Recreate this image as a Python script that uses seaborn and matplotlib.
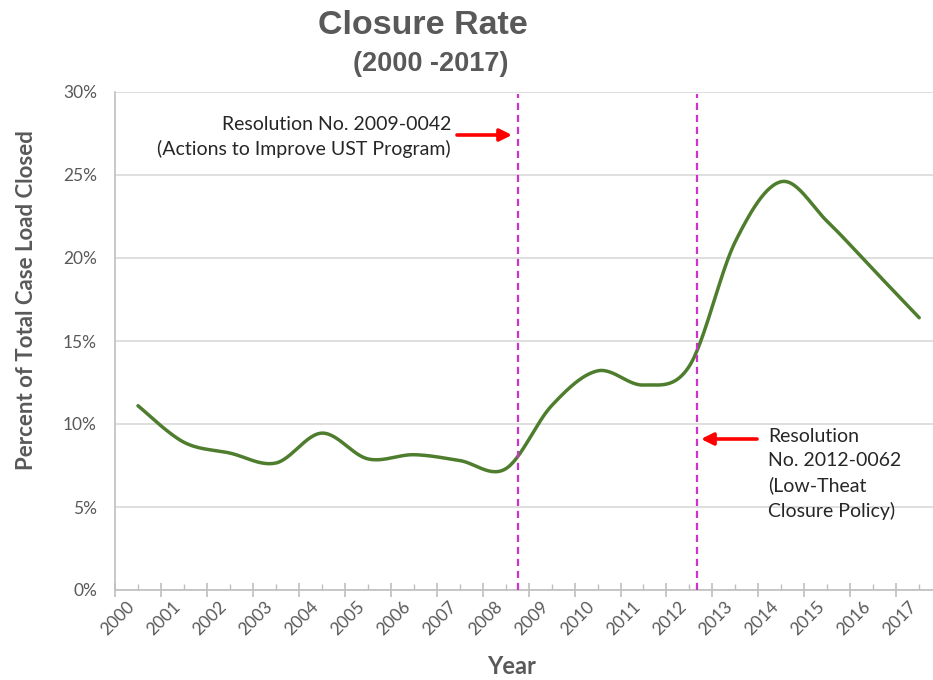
import numpy as np
import pandas as pd
import matplotlib
matplotlib.use("Agg")
import matplotlib.pyplot as plt
import matplotlib.transforms as mtransforms
from matplotlib.ticker import FixedLocator
import seaborn as sns

# Closure rate per year, percent of total case load closed
years = [str(y) for y in range(2000, 2018)]
closure_pct = [11.1, 8.9, 8.25, 7.65, 9.45, 7.9, 8.15, 7.8, 7.3,
               11.1, 13.2, 12.35, 13.5, 21.0, 24.6, 22.2, 19.3, 16.4]
y_ticks = [0, 5, 10, 15, 20, 25, 30]
y_tick_labels = ["0%", "5%", "10%", "15%", "20%", "25%", "30%"]

# Policy milestones (position on the category axis) and their notes
resolution_pos = [8.28, 12.17]
note_2009 = "Resolution No. 2009-0042\n(Actions to Improve UST Program)"
note_2012 = "Resolution\nNo. 2012-0062\n(Low-Theat\nClosure Policy)"

GREY = "#595959"
GREEN = "#4F7D2E"
MAGENTA = "#CC33CC"
FONT = ["Lato", "DejaVu Sans"]


def smooth_path(xs, ys, n=30):
    """Catmull-Rom style Bezier smoothing through every data point."""
    pts = np.column_stack([xs, ys]).astype(float)
    ext = np.vstack([pts[0], pts, pts[-1]])
    out = []
    t = np.linspace(0, 1, n)[:, None]
    for i in range(len(pts) - 1):
        p0, p3 = ext[i + 1], ext[i + 2]
        c1 = p0 + (ext[i + 2] - ext[i]) / 6.0
        c2 = p3 - (ext[i + 3] - ext[i + 1]) / 6.0
        seg = ((1 - t) ** 3) * p0 + 3 * ((1 - t) ** 2) * t * c1 \
            + 3 * (1 - t) * t ** 2 * c2 + t ** 3 * p3
        out.append(seg if i == 0 else seg[1:])
    seg = np.vstack(out)
    return seg[:, 0], seg[:, 1]


sns.set_theme(style="white")
plt.rcParams["font.family"] = FONT

fig = plt.figure(figsize=(9.33, 6.8), dpi=100)
W, H = 933, 680
ax = fig.add_axes([115 / W, 1 - 590 / H, (933 - 115) / W, (590 - 92) / H])

x_idx = np.arange(len(years))
sx, sy = smooth_path(x_idx, closure_pct)
curve = pd.DataFrame({"x": sx, "y": sy})
sns.lineplot(data=curve, x="x", y="y", ax=ax, color=GREEN, linewidth=2.5,
             sort=False, estimator=None)

ax.set_xlim(-0.5, 17.3)
ax.set_ylim(0, 30)

# horizontal gridlines
ax.set_yticks(y_ticks)
ax.set_yticklabels(y_tick_labels, color=GREY, fontsize=12.5)
ax.yaxis.grid(True, color="#D9D9D9", linewidth=1.2)
ax.set_axisbelow(True)
ax.tick_params(axis="y", length=0, pad=13)

# category axis: labels at centres, cross ticks at the boundaries
ax.set_xticks(x_idx)
ax.set_xticklabels(years, rotation=45, ha="right", va="top",
                   color=GREY, fontsize=12.5)
offset = mtransforms.ScaledTranslation(7 / 100, 0, fig.dpi_scale_trans)
for lbl in ax.get_xticklabels():
    lbl.set_transform(lbl.get_transform() + offset)
ax.xaxis.set_minor_locator(FixedLocator(np.arange(-0.5, 17.0, 1.0)))
ax.tick_params(axis="x", which="major", direction="in", length=4,
               width=1, color="#BFBFBF", pad=6, bottom=True)
ax.tick_params(axis="x", which="minor", direction="inout", length=10,
               width=1.2, color="#BFBFBF", bottom=True)

for side in ["top", "right"]:
    ax.spines[side].set_visible(False)
for side in ["left", "bottom"]:
    ax.spines[side].set_color("#BFBFBF")
    ax.spines[side].set_linewidth(1.2)

ax.set_xlabel("")
ax.set_ylabel("")

# policy marker lines
for pos in resolution_pos:
    ax.axvline(pos, color=MAGENTA, linestyle=(0, (3.2, 2.2)), linewidth=1.6,
               ymin=0, ymax=0.995, zorder=3)

# annotations with red arrows
ax.text(451 / W, 1 - 137 / H, note_2009, transform=fig.transFigure,
        ha="right", va="center", fontsize=14, color="#262626",
        linespacing=1.5)
ax.annotate("", xy=(512 / W, 1 - 135 / H), xytext=(457 / W, 1 - 135 / H),
            xycoords="figure fraction", textcoords="figure fraction",
            arrowprops=dict(arrowstyle="-|>,head_length=0.6,head_width=0.3",
                            color="red", linewidth=2.6, shrinkA=0, shrinkB=0))
ax.text(768 / W, 1 - 474 / H, note_2012, transform=fig.transFigure,
        ha="left", va="center", fontsize=14, color="#262626",
        linespacing=1.48)
ax.annotate("", xy=(701 / W, 1 - 439 / H), xytext=(757 / W, 1 - 439 / H),
            xycoords="figure fraction", textcoords="figure fraction",
            arrowprops=dict(arrowstyle="-|>,head_length=0.6,head_width=0.3",
                            color="red", linewidth=2.6, shrinkA=0, shrinkB=0))

# titles and axis titles
fig.text(423 / W, 1 - 25 / H, "Closure Rate", ha="center", va="center",
         fontsize=24.5, fontweight="bold", color=GREY,
         family=["Liberation Sans", "DejaVu Sans"])
fig.text(431 / W, 1 - 64 / H, "(2000 -2017)", ha="center", va="center",
         fontsize=19.5, fontweight="bold", color=GREY,
         family=["Liberation Sans", "DejaVu Sans"])
fig.text(27 / W, 1 - 300 / H, "Percent of Total Case Load Closed",
         rotation=90, ha="center", va="center", fontsize=16,
         fontweight="bold", color=GREY)
fig.text(512 / W, 1 - 667 / H, "Year", ha="center", va="center",
         fontsize=17, fontweight="bold", color=GREY)

fig.savefig("out.png", dpi=100, facecolor="white")
